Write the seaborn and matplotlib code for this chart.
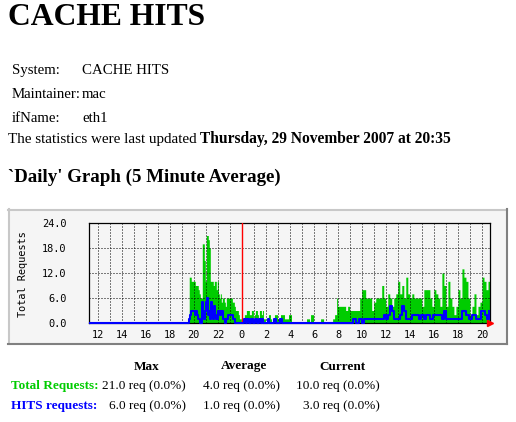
import matplotlib
matplotlib.use("Agg")
import matplotlib.pyplot as plt
from matplotlib.lines import Line2D
from matplotlib.patches import Rectangle
import numpy as np
import pandas as pd
import seaborn as sns

W, H = 516, 422
SERIF = "Liberation Serif"
MONO = "DejaVu Sans Mono"
GREEN = "#00cc00"
BLUE = "#0000ff"

# ---- page text ----
page_title = "CACHE HITS"
info_labels = ["System:", "Maintainer:", "ifName:"]
info_values = ["CACHE HITS", "mac", "eth1"]
updated_prefix = "The statistics were last updated"
updated_when = "Thursday, 29 November 2007 at 20:35"
graph_heading = "`Daily' Graph (5 Minute Average)"

# ---- graph data: one value per 5 minute sample ----
end_hour = 20 + 35 / 60      # last sample 20:35
idle_samples = 100           # flat zero from 11:20 to 19:35
# from 19:40 onwards
total_requests = [
    11, 11, 10, 10, 10, 10, 9, 9, 9, 8,
    7, 6, 6, 19, 19, 15, 10, 21, 21, 20,
    18, 10, 10, 10, 9, 10, 10, 8, 10, 7,
    6, 7, 5, 6, 6, 5, 4, 6, 6, 6,
    6, 6, 6, 5, 5, 4, 3, 3, 3, 2,
    1, 1, 0, 1, 1, 2, 2, 3, 3, 3,
    2, 2, 3, 3, 1, 2, 3, 3, 2, 1,
    3, 3, 2, 3, 1, 1, 0, 0, 0, 2,
    2, 1, 0, 1, 1, 2, 2, 2, 1, 1,
    1, 2, 2, 2, 2, 1, 1, 1, 1, 2,
    2, 2, 0, 0, 0, 0, 0, 0, 0, 0,
    0, 0, 0, 0, 0, 0, 0, 1, 1, 1,
    0, 2, 2, 2, 0, 0, 0, 0, 0, 0,
    0, 1, 1, 1, 0, 0, 0, 0, 0, 0,
    0, 0, 0, 1, 1, 2, 2, 6, 4, 4,
    4, 4, 4, 4, 4, 4, 3, 3, 4, 4,
    3, 3, 3, 3, 3, 3, 3, 3, 3, 3,
    6, 6, 8, 8, 8, 8, 6, 6, 6, 6,
    6, 6, 3, 3, 5, 5, 6, 6, 6, 6,
    6, 6, 9, 9, 6, 6, 4, 4, 7, 7,
    6, 6, 4, 4, 6, 6, 7, 7, 10, 10,
    7, 7, 9, 9, 6, 6, 11, 11, 7, 7,
    6, 6, 7, 7, 6, 6, 6, 6, 6, 6,
    6, 6, 4, 4, 8, 8, 8, 8, 8, 8,
    6, 6, 4, 4, 8, 8, 7, 7, 6, 6,
    4, 4, 12, 12, 9, 9, 4, 4, 10, 10,
    6, 6, 4, 4, 2, 2, 4, 4, 8, 8,
    6, 6, 13, 13, 11, 11, 10, 10, 6, 6,
    2, 2, 4, 4, 7, 7, 2, 2, 4, 4,
    5, 5, 11, 11, 10, 10, 8, 8, 10, 10,
]
hits_requests = [
    1, 2, 3, 3, 3, 3, 2, 3, 2, 1,
    1, 0, 0, 5, 2, 1, 3, 5, 6, 2,
    3, 1, 5, 3, 1, 4, 2, 1, 1, 3,
    3, 2, 3, 3, 1, 1, 0, 1, 1, 2,
    2, 2, 2, 2, 1, 1, 0, 0, 0, 0,
    0, 0, 0, 0, 0, 1, 1, 0, 1, 1,
    0, 0, 1, 1, 0, 0, 1, 1, 0, 0,
    1, 1, 0, 1, 0, 0, 0, 0, 0, 1,
    0, 0, 0, 0, 0, 1, 1, 0, 0, 0,
    0, 1, 1, 0, 0, 0, 0, 0, 0, 0,
    0, 0, 0, 0, 0, 0, 0, 0, 0, 0,
    0, 0, 0, 0, 0, 0, 0, 0, 0, 0,
    0, 0, 0, 0, 0, 0, 0, 0, 0, 0,
    0, 0, 0, 0, 0, 0, 0, 0, 0, 0,
    0, 0, 0, 0, 0, 0, 0, 0, 0, 0,
    0, 0, 0, 0, 0, 0, 0, 0, 0, 0,
    0, 0, 0, 1, 1, 1, 0, 0, 0, 1,
    1, 1, 0, 0, 1, 1, 1, 1, 1, 1,
    1, 1, 1, 1, 1, 1, 1, 1, 1, 1,
    1, 1, 1, 1, 2, 2, 1, 1, 2, 2,
    4, 4, 3, 3, 1, 1, 1, 1, 1, 1,
    2, 2, 4, 4, 3, 3, 1, 1, 1, 1,
    1, 1, 2, 2, 2, 2, 2, 2, 2, 1,
    1, 2, 2, 2, 1, 1, 2, 2, 2, 2,
    1, 1, 1, 2, 2, 2, 2, 2, 2, 2,
    2, 2, 1, 1, 3, 3, 1, 1, 1, 1,
    1, 1, 1, 1, 1, 1, 1, 1, 1, 1,
    1, 1, 3, 3, 3, 3, 2, 2, 2, 1,
    1, 1, 2, 2, 2, 2, 1, 1, 1, 1,
    1, 3, 3, 3, 3, 2, 2, 1, 1, 3,
]

y_ticks = [0, 6, 12, 18, 24]
y_tick_labels = ["0.0", "6.0", "12.0", "18.0", "24.0"]
x_tick_hours = [-12, -10, -8, -6, -4, -2, 0, 2, 4, 6, 8, 10, 12, 14, 16, 18, 20]
x_tick_labels = ["12", "14", "16", "18", "20", "22", "0", "2", "4", "6",
                 "8", "10", "12", "14", "16", "18", "20"]
y_label = "Total Requests"

# ---- summary table ----
summary_headers = ["Max", "Average", "Current"]
summary_labels = ["Total Requests:", "HITS requests:"]
total_summary = ["21.0 req (0.0%)", "4.0 req (0.0%)", "10.0 req (0.0%)"]
hits_summary = ["6.0 req (0.0%)", "1.0 req (0.0%)", "3.0 req (0.0%)"]


def fx(x):
    return x / W


def fy(y):
    return 1 - y / H


total = [0] * idle_samples + total_requests
hits = [0] * idle_samples + hits_requests
n = len(total)
step = 1 / 12
hours = end_hour - step * np.arange(n - 1, -1, -1)
df = pd.DataFrame({"hour": hours, "total": total, "hits": hits})

fig = plt.figure(figsize=(W / 100, H / 100), dpi=100)
fig.patch.set_facecolor("white")

# page header text
fig.text(fx(8), fy(25), page_title, family=SERIF, weight="bold", fontsize=22.8)
for row, (lab, val) in enumerate(zip(info_labels, info_values)):
    base = 74 + row * 24
    fig.text(fx(12), fy(base), lab, family=SERIF, fontsize=10.7)
    fig.text(fx(82), fy(base), val, family=SERIF, fontsize=10.7)
fig.text(fx(8), fy(143), updated_prefix, family=SERIF, fontsize=10.9)
fig.text(fx(200), fy(143), updated_when, family=SERIF, fontsize=11.2, weight="bold")
fig.text(fx(8), fy(182), graph_heading, family=SERIF, fontsize=13.6, weight="bold")

# MRTG image frame
fig.add_artist(Rectangle((fx(8), fy(344)), 499 / W, 135 / H, transform=fig.transFigure,
                         facecolor="#f5f5f5", edgecolor="none", zorder=0))
for (x0, y0, x1, y1, c) in [(8, 209.5, 507, 209.5, "#c8c8c8"), (8.5, 209, 8.5, 344, "#c8c8c8"),
                            (8, 343.5, 507, 343.5, "#808080"), (506.5, 209, 506.5, 344, "#808080")]:
    fig.add_artist(Line2D([fx(x0), fx(x1)], [fy(y0), fy(y1)], transform=fig.transFigure,
                          color=c, lw=1.5, zorder=1))

ax = fig.add_axes([fx(89), fy(323), 401 / W, 100 / H])
ax.set_facecolor("#f5f5f5")

ax.fill_between(df["hour"], df["total"], step="mid", color=GREEN, linewidth=0, zorder=1)
sns.lineplot(data=df, x="hour", y="hits", ax=ax, color=BLUE, linewidth=1.5,
             drawstyle="steps-mid", estimator=None, zorder=3, clip_on=False)
ax.axvline(0, color="red", lw=1, zorder=2.6)

ax.set_xlim(hours[0] - step / 2, hours[-1] + step / 2)
ax.set_ylim(0, 24)
ax.set_xticks(x_tick_hours)
ax.set_xticklabels(x_tick_labels)
ax.set_xticks(np.arange(-12, 21), minor=True)
ax.set_yticks(y_ticks)
ax.set_yticklabels(y_tick_labels)
ax.set_xlabel("")
ax.set_ylabel("")
ax.set_axisbelow(False)
ax.grid(True, which="both", axis="x", color="black", lw=0.72, linestyle=(0, (1, 2)), zorder=2.5)
ax.grid(True, axis="y", color="black", lw=0.72, linestyle=(0, (1, 2)), zorder=2.5)
ax.tick_params(which="both", length=0)
ax.tick_params(axis="y", pad=16, labelsize=7.4)
ax.tick_params(axis="x", pad=5, labelsize=7.4)
for lab in ax.get_xticklabels() + ax.get_yticklabels():
    lab.set_family(MONO)
for sp in ax.spines.values():
    sp.set_color("black")
    sp.set_linewidth(0.9)
ax.plot([ax.get_xlim()[1]], [0], marker=">", color="red", markersize=5, clip_on=False, zorder=4)
fig.text(fx(23.5), fy(274), y_label, family=MONO, fontsize=7.4, rotation=90,
         ha="center", va="center")

# summary table below the graph
for col, head in zip([147, 244, 342], summary_headers):
    fig.text(fx(col), fy(369.5), head, family=SERIF, fontsize=9.5, weight="bold", ha="center")
for row, (lab, vals, colr) in enumerate(zip(summary_labels, [total_summary, hits_summary], [GREEN, BLUE])):
    base = 389.5 + row * 20
    fig.text(fx(11), fy(base), lab, family=SERIF, fontsize=9.5, weight="bold", color=colr)
    for right, v in zip([186, 280, 380], vals):
        fig.text(fx(right), fy(base), v, family=SERIF, fontsize=9.5, ha="right")

fig.savefig("out.png", dpi=100, facecolor="white")
